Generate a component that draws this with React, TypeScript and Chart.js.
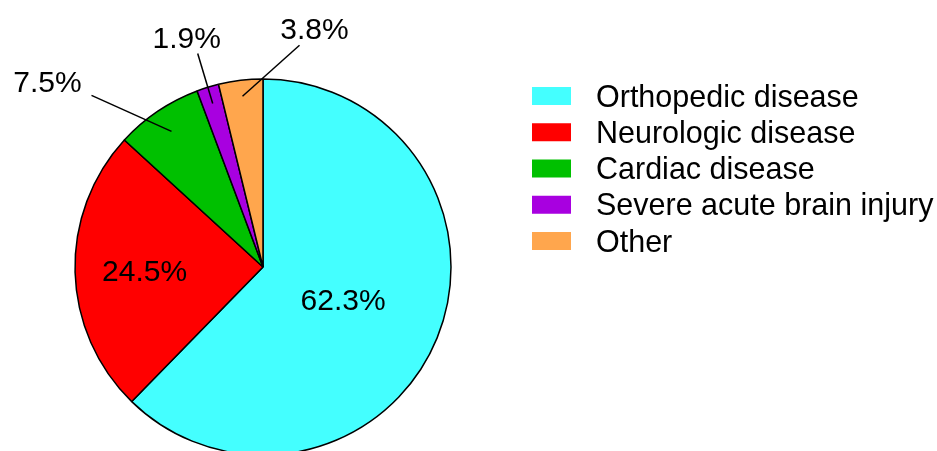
import React, { useEffect, useRef } from "react";
import { Chart, registerables } from "chart.js";

Chart.register(...registerables);

const categories = [
  "Orthopedic disease",
  "Neurologic disease",
  "Cardiac disease",
  "Severe acute brain injury",
  "Other",
];
const values = [62.3, 24.5, 7.5, 1.9, 3.8];
const valueLabels = ["62.3%", "24.5%", "7.5%", "1.9%", "3.8%"];
const colors = ["#44FFFF", "#FF0000", "#00C000", "#A800E0", "#FFA64D"];

// label placement styling: inside radial factor, or leader-line settings
const labelStyle = [
  { inside: true, r: 0.46 },
  { inside: true, r: 0.63 },
  { inside: false, r: 0.87, line: [-80, -36], text: [-44, -14] },
  { inside: false, r: 0.91, line: [-15, -50], text: [-11, -16] },
  { inside: false, r: 0.915, line: [57, -51], text: [15, -17] },
];

const FONT = "Liberation Sans, Arial, sans-serif";
const LABEL_SIZE = 30;
const LEGEND_SIZE = 30.5;

const overlayPlugin = {
  id: "overlay",
  afterDraw(chart: any) {
    const ctx = chart.ctx as CanvasRenderingContext2D;
    const meta = chart.getDatasetMeta(0);
    const half = LABEL_SIZE * 0.716 / 2;
    ctx.save();
    ctx.fillStyle = "#000";
    ctx.strokeStyle = "#000";
    ctx.lineWidth = 1.5;
    ctx.font = `${LABEL_SIZE}px ${FONT}`;
    ctx.textAlign = "center";
    ctx.textBaseline = "alphabetic";
    meta.data.forEach((arc: any, i: number) => {
      const { x, y, startAngle, endAngle, outerRadius } = arc.getProps(
        ["x", "y", "startAngle", "endAngle", "outerRadius"],
        true
      );
      const mid = (startAngle + endAngle) / 2;
      const s = labelStyle[i];
      const px = x + Math.cos(mid) * outerRadius * s.r;
      const py = y + Math.sin(mid) * outerRadius * s.r;
      if (s.inside) {
        ctx.fillText(valueLabels[i], px, py + half);
      } else {
        const ox = px + s.line![0];
        const oy = py + s.line![1];
        ctx.beginPath();
        ctx.moveTo(px, py);
        ctx.lineTo(ox, oy);
        ctx.stroke();
        ctx.fillText(valueLabels[i], ox + s.text![0], oy + s.text![1] + half);
      }
    });
    // legend
    const boxX = 532;
    const boxW = 39;
    const boxH = 18;
    const textX = 596;
    const top = 96;
    const step = 36.25;
    ctx.textAlign = "left";
    ctx.font = `${LEGEND_SIZE}px ${FONT}`;
    categories.forEach((c, i) => {
      const cy = top + i * step;
      ctx.fillStyle = colors[i];
      ctx.fillRect(boxX, cy - boxH / 2, boxW, boxH);
      ctx.fillStyle = "#000";
      ctx.fillText(c, textX, cy + 10.5);
    });
    ctx.restore();
  },
};

export default function App() {
  const ref = useRef<HTMLCanvasElement>(null);
  useEffect(() => {
    document.body.style.margin = "0";
    const chart = new Chart(ref.current!, {
      type: "pie",
      data: {
        labels: categories,
        datasets: [
          {
            data: values,
            backgroundColor: colors,
            borderColor: "#000",
            borderWidth: 1.5,
          },
        ],
      },
      options: {
        responsive: false,
        animation: false,
        devicePixelRatio: 1,
        radius: 188,
        layout: { padding: { left: 0, right: 411, top: 54, bottom: 0 } },
        plugins: {
          legend: { display: false },
          tooltip: { enabled: false },
        },
      } as any,
      plugins: [overlayPlugin],
    });
    return () => chart.destroy();
  }, []);
  return (
    <div style={{ width: 937, height: 451, overflow: "hidden", background: "#fff" }}>
      <canvas ref={ref} width={937} height={480} />
    </div>
  );
}
